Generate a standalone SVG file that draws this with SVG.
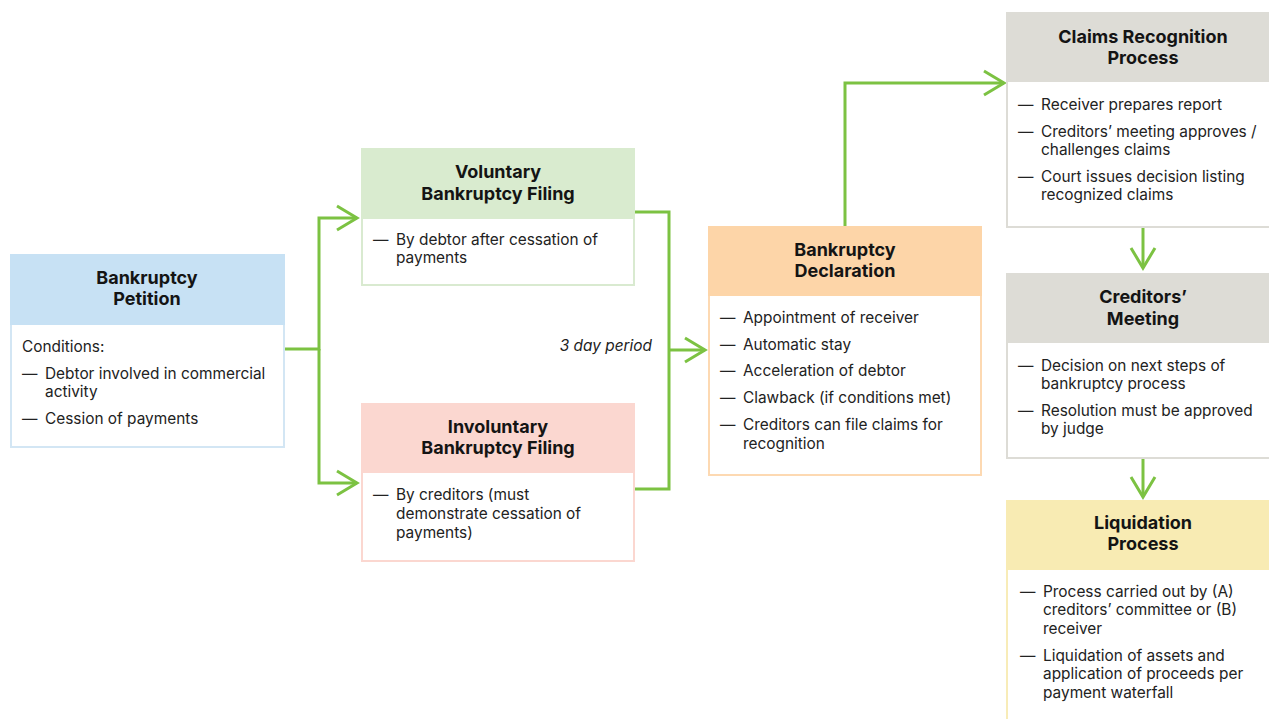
<svg xmlns="http://www.w3.org/2000/svg" width="1269" height="719" viewBox="0 0 1269 719">
<style>
.hd{font-family:Inter,"Liberation Sans",sans-serif;font-size:18px;font-weight:700;fill:#141414;text-anchor:middle}
.bd{font-family:Inter,"Liberation Sans",sans-serif;font-size:15.4px;fill:#222}
.it{font-family:Inter,"Liberation Sans",sans-serif;font-size:15.4px;font-style:italic;fill:#222;text-anchor:end}
.cn{fill:none;stroke:#7cc242;stroke-width:3}
</style>
<defs>
<marker id="ah" viewBox="-24 -15 27 30" markerWidth="27" markerHeight="30" refX="0" refY="0" orient="auto" markerUnits="userSpaceOnUse">
<path d="M-20 -12 L0 0 L-20 12" fill="none" stroke="#7cc242" stroke-width="3"/>
</marker>
</defs>
<rect width="1269" height="719" fill="#fff"/>
<g id="connectors">
<path class="cn" d="M284 349 H319 V218 H357" marker-end="url(#ah)"/>
<path class="cn" d="M319 349 V483 H357" marker-end="url(#ah)"/>
<path class="cn" d="M634 212 H669 V489 H634"/>
<path class="cn" d="M669 350 H705" marker-end="url(#ah)"/>
<path class="cn" d="M845 226 V83 H1004" marker-end="url(#ah)"/>
<path class="cn" d="M1143 228 V268" marker-end="url(#ah)"/>
<path class="cn" d="M1143 459 V497" marker-end="url(#ah)"/>
<text class="it" x="652" y="351">3 day period</text>
</g>
<g id="petition">
<rect x="11" y="255" width="273" height="192" fill="#fff" stroke="#d3e6f4" stroke-width="2"/>
<rect x="10" y="254" width="275" height="71" fill="#c7e1f4"/>
<text class="hd" x="147" y="284">Bankruptcy</text>
<text class="hd" x="147" y="305">Petition</text>
<text class="bd" x="22" y="352">Conditions:</text>
<text class="bd" x="22" y="379">—</text>
<text class="bd" x="45" y="379">Debtor involved in commercial</text>
<text class="bd" x="45" y="397">activity</text>
<text class="bd" x="22" y="424">—</text>
<text class="bd" x="45" y="424">Cession of payments</text>
</g>
<g id="voluntary">
<rect x="362" y="149" width="272" height="136" fill="#fff" stroke="#d9ead0" stroke-width="2"/>
<rect x="361" y="148" width="274" height="71" fill="#d9ebcf"/>
<text class="hd" x="498" y="178">Voluntary</text>
<text class="hd" x="498" y="200">Bankruptcy Filing</text>
<text class="bd" x="373" y="245">—</text>
<text class="bd" x="396" y="245">By debtor after cessation of</text>
<text class="bd" x="396" y="263">payments</text>
</g>
<g id="involuntary">
<rect x="362" y="404" width="272" height="157" fill="#fff" stroke="#fbd7d0" stroke-width="2"/>
<rect x="361" y="403" width="274" height="70" fill="#fbd7d0"/>
<text class="hd" x="498" y="433">Involuntary</text>
<text class="hd" x="498" y="454">Bankruptcy Filing</text>
<text class="bd" x="373" y="500">—</text>
<text class="bd" x="396" y="500">By creditors (must</text>
<text class="bd" x="396" y="519">demonstrate cessation of</text>
<text class="bd" x="396" y="538">payments)</text>
</g>
<g id="declaration">
<rect x="709" y="227" width="272" height="248" fill="#fff" stroke="#fdd9b2" stroke-width="2"/>
<rect x="708" y="226" width="274" height="70" fill="#fdd5a8"/>
<text class="hd" x="845" y="256">Bankruptcy</text>
<text class="hd" x="845" y="277">Declaration</text>
<text class="bd" x="720" y="323">—</text>
<text class="bd" x="743" y="323">Appointment of receiver</text>
<text class="bd" x="720" y="350">—</text>
<text class="bd" x="743" y="350">Automatic stay</text>
<text class="bd" x="720" y="376">—</text>
<text class="bd" x="743" y="376">Acceleration of debtor</text>
<text class="bd" x="720" y="403">—</text>
<text class="bd" x="743" y="403">Clawback (if conditions met)</text>
<text class="bd" x="720" y="430">—</text>
<text class="bd" x="743" y="430">Creditors can file claims for</text>
<text class="bd" x="743" y="449">recognition</text>
</g>
<g id="claims">
<rect x="1007" y="13" width="272" height="214" fill="#fff" stroke="#dddcd6" stroke-width="2"/>
<rect x="1006" y="12" width="274" height="70" fill="#dddcd6"/>
<text class="hd" x="1143" y="43">Claims Recognition</text>
<text class="hd" x="1143" y="64">Process</text>
<text class="bd" x="1018" y="110">—</text>
<text class="bd" x="1041" y="110">Receiver prepares report</text>
<text class="bd" x="1018" y="137">—</text>
<text class="bd" x="1041" y="137">Creditors’ meeting approves /</text>
<text class="bd" x="1041" y="155">challenges claims</text>
<text class="bd" x="1018" y="182">—</text>
<text class="bd" x="1041" y="182">Court issues decision listing</text>
<text class="bd" x="1041" y="200">recognized claims</text>
</g>
<g id="creditors">
<rect x="1007" y="274" width="272" height="184" fill="#fff" stroke="#dddcd6" stroke-width="2"/>
<rect x="1006" y="273" width="274" height="70" fill="#dddcd6"/>
<text class="hd" x="1143" y="303">Creditors’</text>
<text class="hd" x="1143" y="325">Meeting</text>
<text class="bd" x="1018" y="371">—</text>
<text class="bd" x="1041" y="371">Decision on next steps of</text>
<text class="bd" x="1041" y="389">bankruptcy process</text>
<text class="bd" x="1018" y="416">—</text>
<text class="bd" x="1041" y="416">Resolution must be approved</text>
<text class="bd" x="1041" y="434">by judge</text>
</g>
<g id="liquidation">
<rect x="1007" y="501" width="272" height="230" fill="#fff" stroke="#f8ecb8" stroke-width="2"/>
<rect x="1006" y="500" width="274" height="70" fill="#f8ebb3"/>
<text class="hd" x="1143" y="529">Liquidation</text>
<text class="hd" x="1143" y="550">Process</text>
<text class="bd" x="1020" y="597">—</text>
<text class="bd" x="1043" y="597">Process carried out by (A)</text>
<text class="bd" x="1043" y="615">creditors’ committee or (B)</text>
<text class="bd" x="1043" y="634">receiver</text>
<text class="bd" x="1020" y="661">—</text>
<text class="bd" x="1043" y="661">Liquidation of assets and</text>
<text class="bd" x="1043" y="679">application of proceeds per</text>
<text class="bd" x="1043" y="698">payment waterfall</text>
</g>
</svg>
